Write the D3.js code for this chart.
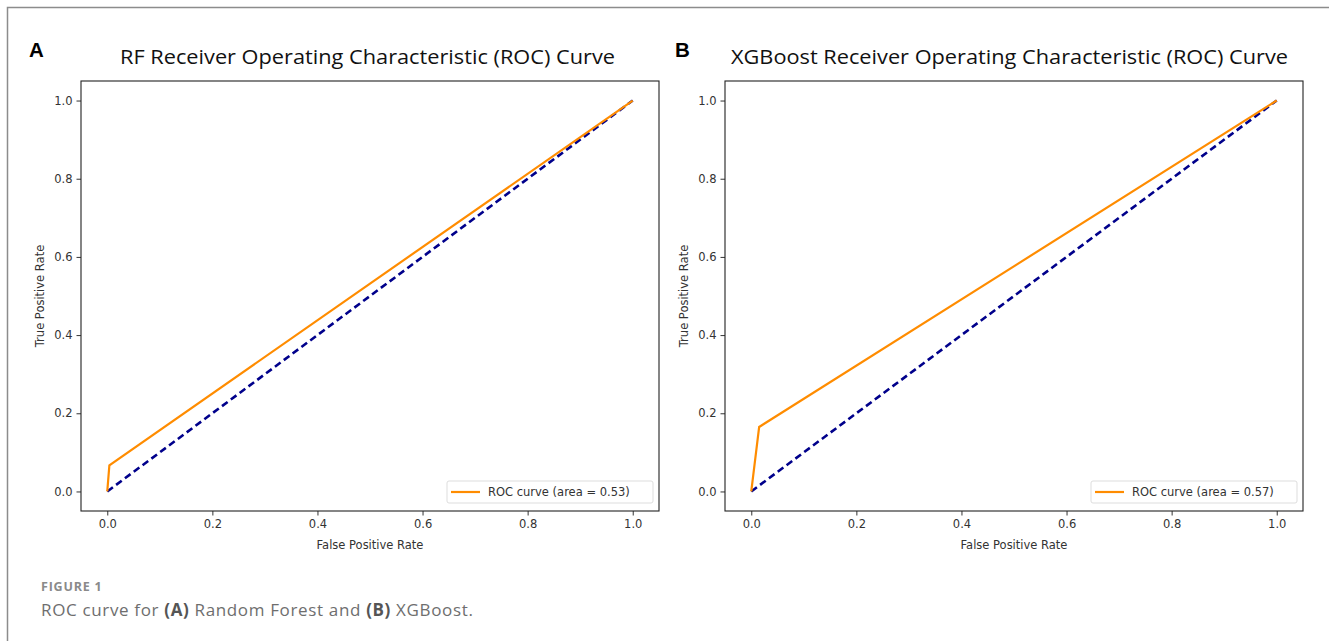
<!DOCTYPE html>
<html>
<head>
<meta charset="utf-8">
<script src="https://cdn.jsdelivr.net/npm/d3@7"></script>
<style>
  body { margin: 0; background: #fff; }
  svg { display: block; }
  .tick text { font-family: "DejaVu Sans", sans-serif; font-size: 11.5px; fill: #333; }
  .tick line { stroke: #333; }
  .domain { stroke: none; }
</style>
</head>
<body>
<svg id="fig" width="1329" height="641"></svg>
<script>
// axis ticks shared by both panels
const tickValues = [0, 0.2, 0.4, 0.6, 0.8, 1.0];

// ROC points
const rfFpr = [0, 0.004, 1];
const rfTpr = [0, 0.067, 1];
const xgbFpr = [0, 0.015, 1];
const xgbTpr = [0, 0.165, 1];

// chance diagonal
const chanceFpr = [0, 1];
const chanceTpr = [0, 1];

const panelLetters = ["A", "B"];
const panelTitles = [
  "RF Receiver Operating Characteristic (ROC) Curve",
  "XGBoost Receiver Operating Characteristic (ROC) Curve"
];
const legendLabels = ["ROC curve (area = 0.53)", "ROC curve (area = 0.57)"];

function drawPanel(svg, opts) {
  const x = d3.scaleLinear().domain([-0.05, 1.05]).range([opts.left, opts.right]);
  const y = d3.scaleLinear().domain([-0.05, 1.05]).range([opts.bottom, opts.top]);
  const g = svg.append("g");

  // panel letter
  g.append("text")
    .attr("x", opts.letterX).attr("y", 57)
    .style("font-family", "Liberation Sans, Arial, sans-serif")
    .style("font-weight", "bold").style("font-size", "20.5px")
    .text(opts.letter);

  // title
  g.append("text")
    .attr("x", opts.titleX).attr("y", 64)
    .attr("textLength", opts.titleW).attr("lengthAdjust", "spacingAndGlyphs")
    .style("font-family", "Open Sans, sans-serif").style("font-size", "20px")
    .style("fill", "#111")
    .text(opts.title);

  // axes
  g.append("g").attr("transform", `translate(0,${opts.bottom})`)
    .call(d3.axisBottom(x).tickValues(tickValues).tickFormat(d3.format(".1f"))
      .tickSize(4.5).tickPadding(4));
  g.append("g").attr("transform", `translate(${opts.left},0)`)
    .call(d3.axisLeft(y).tickValues(tickValues).tickFormat(d3.format(".1f"))
      .tickSize(4.5).tickPadding(4));

  const line = d3.line().x(d => x(d[0])).y(d => y(d[1]));

  // chance line
  g.append("path")
    .datum(d3.zip(chanceFpr, chanceTpr))
    .attr("d", line)
    .attr("fill", "none").attr("stroke", "#00008b")
    .attr("stroke-width", 2.6).attr("stroke-dasharray", "7,4");

  // roc curve
  g.append("path")
    .datum(d3.zip(opts.fpr, opts.tpr))
    .attr("d", line)
    .attr("fill", "none").attr("stroke", "#ff8c00")
    .attr("stroke-width", 2.2).attr("stroke-linejoin", "miter");

  // frame
  g.append("rect")
    .attr("x", opts.left).attr("y", opts.top)
    .attr("width", opts.right - opts.left).attr("height", opts.bottom - opts.top)
    .attr("fill", "none").attr("stroke", "#222").attr("stroke-width", 1.1);

  // axis labels
  g.append("text")
    .attr("x", (opts.left + opts.right) / 2).attr("y", 549)
    .attr("text-anchor", "middle")
    .style("font-family", "DejaVu Sans, sans-serif").style("font-size", "11.5px")
    .style("fill", "#333")
    .text("False Positive Rate");
  g.append("text")
    .attr("transform", `translate(${opts.left - 37},${(opts.top + opts.bottom) / 2}) rotate(-90)`)
    .attr("text-anchor", "middle")
    .style("font-family", "DejaVu Sans, sans-serif").style("font-size", "11.5px")
    .style("fill", "#333")
    .text("True Positive Rate");

  // legend
  const lg = g.append("g").attr("transform", `translate(${opts.right - 212},${opts.bottom - 30})`);
  lg.append("rect")
    .attr("width", 206).attr("height", 22).attr("rx", 2)
    .attr("fill", "#fff").attr("stroke", "#ddd");
  lg.append("line")
    .attr("x1", 4).attr("x2", 33).attr("y1", 11).attr("y2", 11)
    .attr("stroke", "#ff8c00").attr("stroke-width", 2.2);
  lg.append("text")
    .attr("x", 41).attr("y", 15)
    .style("font-family", "DejaVu Sans, sans-serif").style("font-size", "11.5px")
    .style("fill", "#333")
    .text(opts.legend);
}

whenReady();

function whenReady() {
  const svg = d3.select("#fig");

  // outer figure border (top and left only)
  svg.append("path")
    .attr("d", "M7.5,641 V7.5 H1329")
    .attr("fill", "none").attr("stroke", "#8c8c8c").attr("stroke-width", 1.5);

  drawPanel(svg, {
    left: 81, right: 659, top: 81, bottom: 511,
    letter: panelLetters[0], letterX: 29,
    title: panelTitles[0], titleX: 120, titleW: 495,
    fpr: rfFpr, tpr: rfTpr, legend: legendLabels[0]
  });
  drawPanel(svg, {
    left: 725, right: 1303, top: 81, bottom: 511,
    letter: panelLetters[1], letterX: 675,
    title: panelTitles[1], titleX: 731, titleW: 557,
    fpr: xgbFpr, tpr: xgbTpr, legend: legendLabels[1]
  });

  // caption
  svg.append("text")
    .attr("x", 41).attr("y", 591)
    .style("font-family", "Open Sans, sans-serif").style("font-weight", "bold")
    .style("font-size", "12.5px").style("fill", "#8a8a8a")
    .style("letter-spacing", "0.8px")
    .text("FIGURE 1");
  const cap = svg.append("text")
    .attr("x", 41).attr("y", 616)
    .style("font-family", "Open Sans, sans-serif")
    .style("font-size", "17px").style("fill", "#6e6e6e")
    .style("letter-spacing", "0.65px");
  cap.append("tspan").text("ROC curve for ");
  cap.append("tspan").style("font-weight", "bold").style("fill", "#555").text("(A)");
  cap.append("tspan").text(" Random Forest and ");
  cap.append("tspan").style("font-weight", "bold").style("fill", "#555").text("(B)");
  cap.append("tspan").text(" XGBoost.");
}
</script>
</body>
</html>
